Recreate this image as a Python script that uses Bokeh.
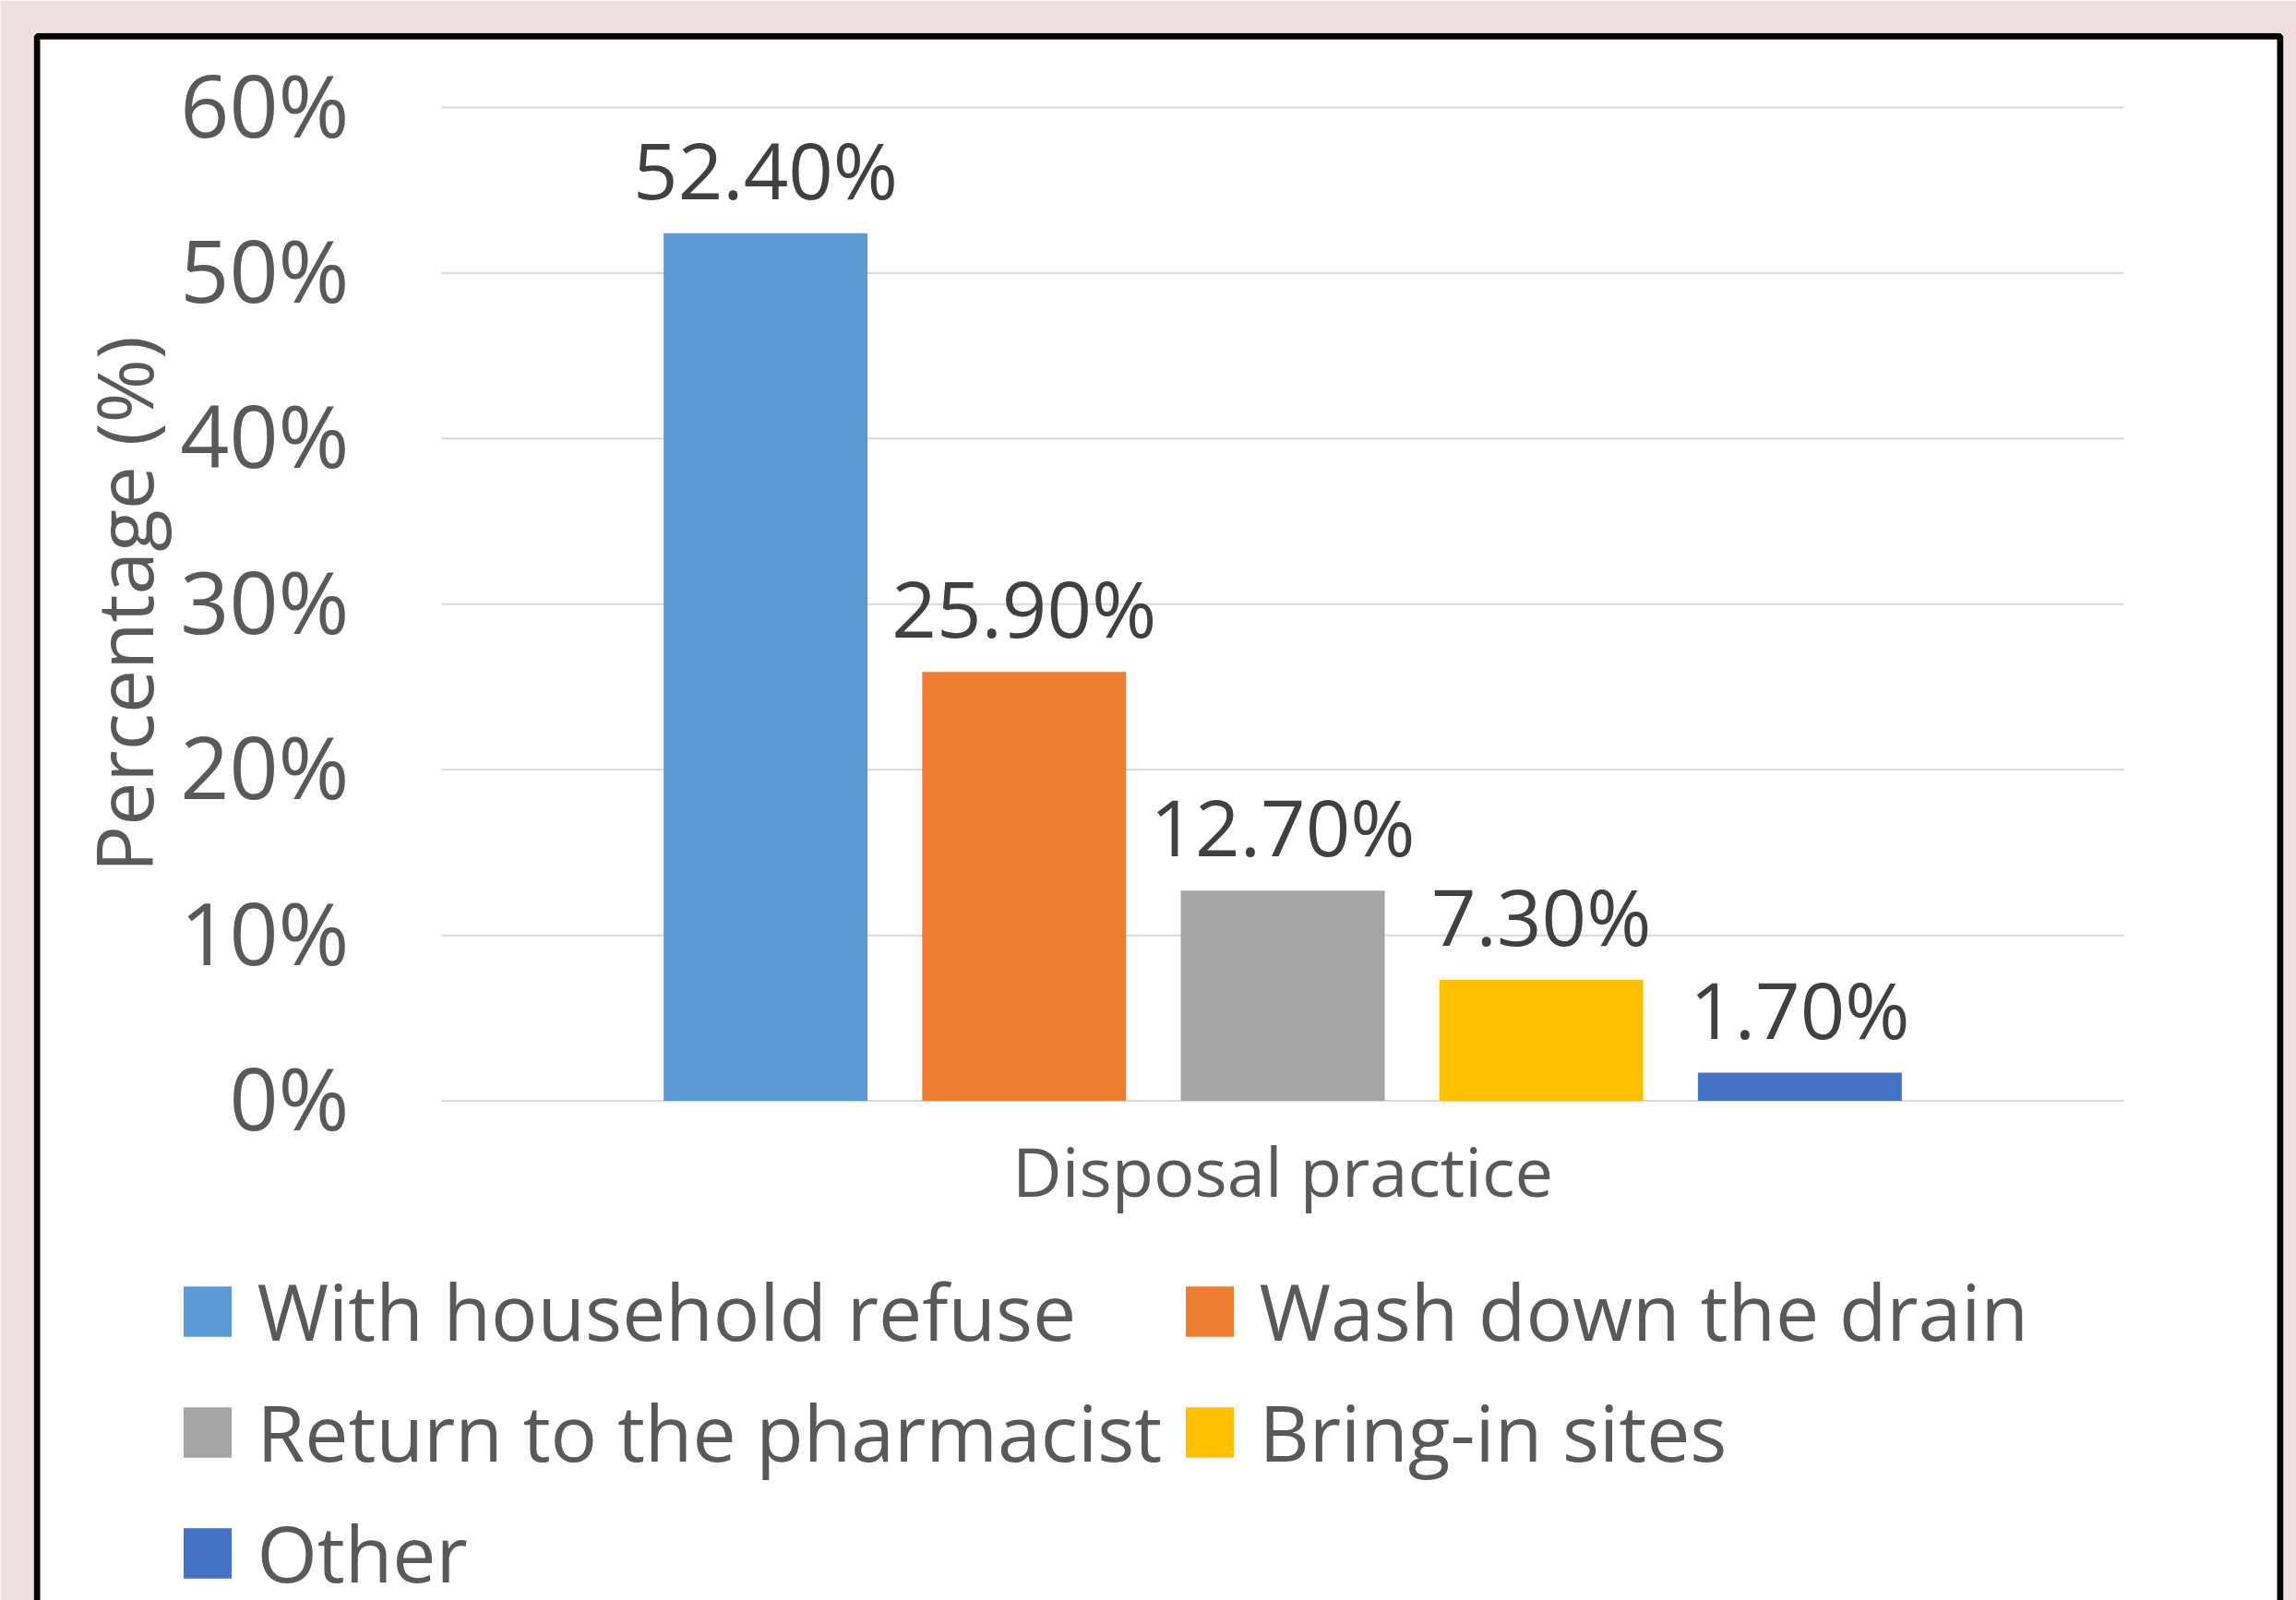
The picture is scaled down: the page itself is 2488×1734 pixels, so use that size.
import math
from bokeh.plotting import figure
from bokeh.models import (ColumnDataSource, Range1d, BoxAnnotation, Legend, LegendItem)
from bokeh.transform import dodge
from bokeh.core.properties import value
from bokeh.embed import file_html
from bokeh.resources import INLINE

# ---- data ----
category = ["Disposal practice"]
series = ["With household refuse", "Wash down the drain",
          "Return to the pharmacist", "Bring-in sites", "Other"]
values = [52.4, 25.9, 12.7, 7.3, 1.7]
value_labels = ["52.40%", "25.90%", "12.70%", "7.30%", "1.70%"]
colors = ["#5B9BD5", "#ED7D31", "#A5A5A5", "#FFC000", "#4472C4"]
y_ticks = [0, 10, 20, 30, 40, 50, 60]
y_tick_labels = ["0%", "10%", "20%", "30%", "40%", "50%", "60%"]
y_title = "Percentage (%)"

FONT = "Open Sans"
PINK = "#EFDFDF"
TXT = "#595959"

# ---- layout (pixels on the page) ----
W, H = 2488, 1734
FRAME_L, FRAME_T, FRAME_R, FRAME_B = 36, 35, 2474, 1734
PLOT_L, PLOT_R, PLOT_T, PLOT_B = 478, 2301, 116, 1192.6
Y_MAX = 60
XPX = PLOT_R - PLOT_L                    # px per x unit (category spans 0..1)
YPX = (PLOT_B - PLOT_T) / Y_MAX          # px per y unit


def px2x(px):
    return (px - PLOT_L) / XPX


def px2y(py):
    return (PLOT_B - py) / YPX


p = figure(x_range=Range1d(px2x(FRAME_L), px2x(FRAME_R)),
           y_range=Range1d(px2y(FRAME_B), px2y(FRAME_T)),
           width=W, height=H, output_backend="svg", toolbar_location=None,
           x_axis_location=None, y_axis_location=None,
           min_border_left=FRAME_L, min_border_right=W - FRAME_R,
           min_border_top=FRAME_T, min_border_bottom=H - FRAME_B,
           border_fill_color=PINK, background_fill_color="white",
           outline_line_color=None)
p.xgrid.visible = False
p.ygrid.visible = False

# white chart area with black border (bottom edge runs off the page)
p.add_layout(BoxAnnotation(left=px2x(39.5), right=px2x(2470.5),
                           top=px2y(38.8), bottom=px2y(1900),
                           fill_color="white", fill_alpha=1.0,
                           line_color="black", line_alpha=1.0, line_dash="solid",
                           line_width=7, level="underlay"))

# gridlines
grid_src = ColumnDataSource(dict(y=y_ticks, x0=[0] * len(y_ticks), x1=[1] * len(y_ticks),
                                 lab=y_tick_labels))
p.segment(x0="x0", x1="x1", y0="y", y1="y", source=grid_src,
          line_color="#D9D9D9", line_width=2)

# y tick labels
p.text(x=dodge("x0", -(PLOT_L - 378) / XPX), y=dodge("y", 4 / YPX), text="lab",
       source=grid_src, text_align="right", text_baseline="middle",
       text_font=value(FONT), text_font_size="93px", text_color=TXT)

# y title
p.text(x=[px2x(133)], y=[Y_MAX / 2], text=[y_title], angle=math.pi / 2,
       text_align="center", text_baseline="middle",
       text_font=value(FONT), text_font_size="84px", text_color=TXT)

# category label
p.text(x=[0.5], y=[px2y(1268)], text=category, text_align="center",
       text_baseline="middle", text_font=value(FONT), text_font_size="74px",
       text_color=TXT)

spacing = 0.1537
bar_w = 0.1212
items = []
for i, (s, v, lab, c) in enumerate(zip(series, values, value_labels, colors)):
    src = ColumnDataSource(dict(x=[0.5 + (i - 2) * spacing], val=[v], lab=[lab]))
    r = p.vbar(x="x", top="val", bottom=0, width=bar_w, source=src,
               fill_color=c, line_color=None)
    p.text(x="x", y=dodge("val", 70 / YPX), text="lab", source=src,
           text_align="center", text_baseline="middle",
           text_font=value(FONT), text_font_size="85px", text_color="#404040")
    items.append(LegendItem(label=s, renderers=[r]))

legend = Legend(items=items, location=(191.5 - FRAME_L, -6), orientation="horizontal",
                ncols=2, label_text_font=FONT, label_text_font_size="84px",
                label_text_color=TXT, glyph_width=65, glyph_height=68,
                label_standoff=22, label_width=983, spacing=16, padding=0, margin=0,
                border_line_color=None, background_fill_alpha=0)
p.add_layout(legend, "center")

open("out.html", "w").write(file_html(p, INLINE))
